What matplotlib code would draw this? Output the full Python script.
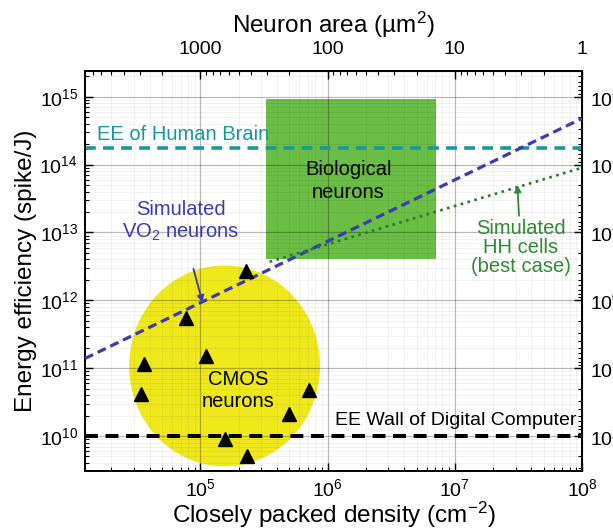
import numpy as np
import matplotlib
matplotlib.use("Agg")
import matplotlib.pyplot as plt

plt.rcParams['font.family'] = ['Liberation Sans', 'DejaVu Sans']
plt.rcParams['mathtext.fontset'] = 'custom'
plt.rcParams['mathtext.rm'] = 'Liberation Sans'
plt.rcParams['mathtext.it'] = 'Liberation Sans:italic'
plt.rcParams['mathtext.bf'] = 'Liberation Sans:bold'

# CMOS neurons (density cm^-2, energy efficiency spike/J)
cmos_density = [2.29e5, 7.7e4, 1.1e5, 3.6e4, 3.44e4, 7.1e5, 5.0e5, 1.56e5, 2.33e5]
cmos_ee = [2.7e12, 5.4e11, 1.5e11, 1.16e11, 4.1e10, 4.7e10, 2.1e10, 8.9e9, 5.1e9]

# simulated VO2 neurons (dashed trend)
vo2_density = [1.24e4, 1e8]
vo2_ee = [1.39e11, 4.8e14]

# simulated HH cells, best case (dotted trend)
hh_density = [3.5e5, 1e8]
hh_ee = [3.7e12, 9.0e13]

# biological neurons region
bio_density = [3.3e5, 7.1e6]
bio_ee = [4.0e12, 9.2e14]

# CMOS region: centre and half-spans in decades
cmos_centre = [1.55e5, 1.08e11]
cmos_halfspan = [0.75, 1.48]

ee_brain = 1.75e14
ee_wall = 1e10

xlim = [1.24e4, 1e8]
ylim = [3.05e9, 2.42e15]

area_ticks = [1000, 100, 10, 1]

teal = '#17989a'
blue = '#3b3bb3'
green_txt = '#2e8b2e'
green_dot = '#2a7a2a'

fig = plt.figure(figsize=(6.13, 5.29), dpi=100)
ax = fig.add_axes([0.1387, 0.1096, 0.8108, 0.7567])
ax.set_xscale('log')
ax.set_yscale('log')
ax.set_xlim(xlim)
ax.set_ylim(ylim)

# grid over the shaded regions, under the lines
ax.set_axisbelow(True)
ax.grid(True, which='major', color='black', alpha=0.27, linewidth=0.9)
ax.grid(True, which='minor', color='black', alpha=0.06, linewidth=0.6)

# yellow CMOS blob (ellipse in log space -> circle on screen)
t = np.linspace(0, 2 * np.pi, 300)
ex = 10 ** (np.log10(cmos_centre[0]) + cmos_halfspan[0] * np.cos(t))
ey = 10 ** (np.log10(cmos_centre[1]) + cmos_halfspan[1] * np.sin(t))
ax.fill(ex, ey, color='#efe81c', lw=0, zorder=0.3)

# green box
ax.fill_between(bio_density, bio_ee[0], bio_ee[1], color='#6abd45', lw=0, zorder=0.3)

ax.axhline(ee_brain, color=teal, lw=2.6, dashes=(3.0, 2.0), zorder=2)
ax.axhline(ee_wall, color='black', lw=2.9, dashes=(3.2, 1.9), zorder=2)
ax.plot(vo2_density, vo2_ee, color=blue, lw=2.3, dashes=(2.8, 1.6), zorder=3)
ax.plot(hh_density, hh_ee, color=green_dot, lw=1.9, dashes=(1, 1.7), zorder=3)
ax.plot(cmos_density, cmos_ee, '^', color='black', ms=10.5, zorder=4)

fs = 14.5
ax.text(1.55e4, 2.75e14, 'EE of Human Brain', color=teal, fontsize=fs, va='center', ha='left')
ax.text(1.46e6, 5.8e13, 'Biological\nneurons', color='black', fontsize=fs,
        ha='center', va='center', linespacing=1.25)
ax.text(1.97e5, 4.7e10, 'CMOS\nneurons', color='black', fontsize=fs,
        ha='center', va='center', linespacing=1.25)
ax.text(1.15e6, 1.7e10, 'EE Wall of Digital Computer', color='black', fontsize=14,
        ha='left', va='center')
ax.annotate('Simulated\nVO$_2$ neurons', xy=(1.04e5, 9.3e11), xytext=(7.0e4, 1.45e13),
            color=blue, fontsize=fs, ha='center', va='center', linespacing=1.2,
            arrowprops=dict(arrowstyle='-|>', color=blue, lw=1.3, mutation_scale=10,
                            shrinkA=17, shrinkB=0))
ax.annotate('Simulated\nHH cells\n(best case)', xy=(3.1e7, 5.0e13), xytext=(3.3e7, 6.1e12),
            color=green_txt, fontsize=fs, ha='center', va='center', linespacing=1.0,
            arrowprops=dict(arrowstyle='-|>', color=green_txt, lw=1.3, mutation_scale=10,
                            shrinkA=28, shrinkB=0))

ax.tick_params(which='both', direction='in', top=False, right=False, labelsize=14, pad=5)
ax.tick_params(which='major', length=6, width=1)
ax.tick_params(which='minor', length=3, width=0.8)
for s in ax.spines.values():
    s.set_linewidth(1.4)

ax.set_xlabel('Closely packed density (cm$^{-2}$)', fontsize=17.5, labelpad=0)
ax.set_ylabel('Energy efficiency (spike/J)', fontsize=17.5, labelpad=2)


def dens2area(d):
    d = np.asarray(d, dtype=float)
    with np.errstate(divide='ignore'):
        return 1e8 / d


def ee2pj(e):
    e = np.asarray(e, dtype=float)
    with np.errstate(divide='ignore'):
        return 1e12 / e


top = ax.secondary_xaxis('top', functions=(dens2area, dens2area))
top.set_xticks(area_ticks, labels=[str(a) for a in area_ticks])
top.tick_params(which='both', direction='in', labelsize=14, pad=9)
top.tick_params(which='major', length=6, width=1)
top.tick_params(which='minor', length=3, width=0.8)
top.set_xlabel('Neuron area (\u00b5m$^{2}$)', fontsize=17.5, labelpad=6)

right = ax.secondary_yaxis('right', functions=(ee2pj, ee2pj))
right.tick_params(which='both', direction='in', labelsize=14, pad=6)
right.tick_params(which='major', length=6, width=1)
right.tick_params(which='minor', length=3, width=0.8)

fig.savefig('out.png', dpi=100)
